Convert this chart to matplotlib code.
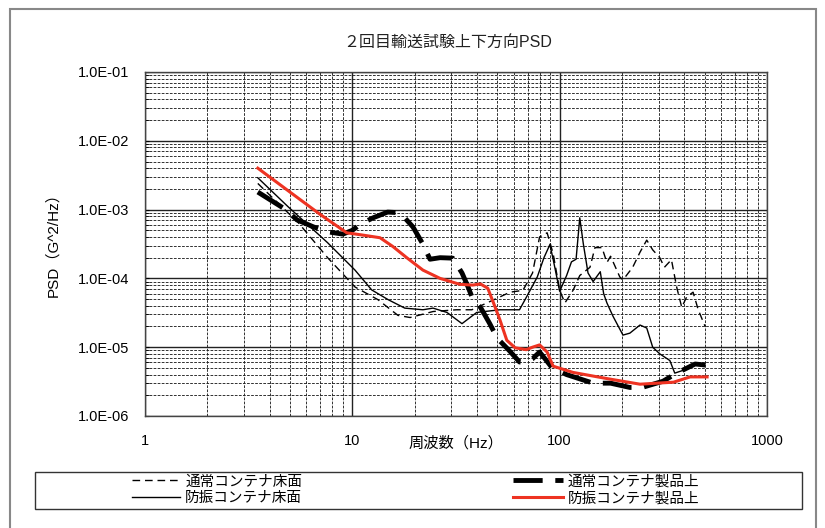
import numpy as np
import matplotlib.pyplot as plt
from matplotlib.ticker import LogLocator, FuncFormatter, NullFormatter
from matplotlib.patches import Rectangle

plt.rcParams['font.family'] = ['Liberation Sans', 'Noto Sans CJK JP']

# === 1. データ ===
# 通常コンテナ床面 (細い破線)
f_normal_floor = [3.5, 5.5, 7.6, 10.3, 13.3, 16.6, 19, 24.5, 31.8, 37.7, 44.6, 57.6, 66.5,
                  74, 80, 87, 93, 100, 106, 116, 125, 140, 148, 160, 169, 176, 195, 202,
                  225, 244, 263, 281, 304, 320, 346, 367, 388, 410, 440, 466, 503]
psd_normal_floor = [2.4e-3, 6.4e-4, 2.0e-4, 7.5e-5, 4.9e-5, 2.9e-5, 2.7e-5, 3.3e-5, 3.5e-5,
                    3.5e-5, 4.4e-5, 6.3e-5, 6.7e-5, 1.2e-4, 4.0e-4, 4.6e-4, 2.3e-4, 6.7e-5,
                    4.4e-5, 6.7e-5, 1.1e-4, 1.45e-4, 2.8e-4, 2.8e-4, 1.7e-4, 2.1e-4, 1.05e-4,
                    9.5e-5, 1.45e-4, 2.4e-4, 3.6e-4, 2.6e-4, 2.0e-4, 1.45e-4, 1.87e-4, 7.4e-5,
                    3.8e-5, 5.4e-5, 6.3e-5, 3.5e-5, 2.0e-5]

# 防振コンテナ床面 (細い実線)
f_iso_floor = [3.5, 4.9, 7.6, 10.3, 12.4, 14.9, 17.9, 21.9, 24.5, 28.6, 33.8, 39.8, 51.5, 64,
               69.5, 78, 84, 89.7, 93, 100, 108, 114, 120, 125, 130, 137, 145, 157, 163, 169,
               181, 202, 218, 244, 263, 281, 304, 340, 359, 410, 440, 500]
psd_iso_floor = [2.9e-3, 1.1e-3, 3.3e-4, 1.32e-4, 6.8e-5, 4.9e-5, 3.7e-5, 3.5e-5, 3.7e-5,
                 3.2e-5, 2.2e-5, 3.2e-5, 3.5e-5, 3.5e-5, 5.5e-5, 1.05e-4, 2.0e-4, 3.1e-4,
                 1.9e-4, 6.5e-5, 1.1e-4, 1.74e-4, 1.9e-4, 7.6e-4, 3.2e-4, 1.2e-4, 9.0e-5,
                 1.25e-4, 6.0e-5, 4.4e-5, 2.8e-5, 1.5e-5, 1.6e-5, 2.1e-5, 1.9e-5, 1.0e-5,
                 8.0e-6, 6.4e-6, 4.2e-6, 4.8e-6, 5.5e-6, 5.5e-6]

# 通常コンテナ製品上 (太い破線)
f_normal_prod = [3.5, 4.8, 5.4, 6.5, 7.8, 9.0, 10, 11, 12.6, 14.8, 17, 19.6, 21.7, 23.7, 26.5,
                 30.5, 33.8, 36.1, 38.2, 41.5, 46, 50, 57, 64, 68, 74, 80, 86, 92, 108, 145,
                 176, 218, 250, 315, 367, 450, 505]
psd_normal_prod = [1.8e-3, 9.9e-4, 7.1e-4, 5.6e-4, 4.7e-4, 4.4e-4, 5.0e-4, 6.2e-4, 7.6e-4,
                   9.2e-4, 9.0e-4, 5.6e-4, 3.3e-4, 1.9e-4, 2.0e-4, 1.97e-4, 1.2e-4, 7.6e-5,
                   4.9e-5, 3.8e-5, 2.2e-5, 1.35e-5, 9.0e-6, 6.1e-6, 6.0e-6, 6.8e-6, 8.5e-6,
                   6.5e-6, 5.0e-6, 4.0e-6, 3.0e-6, 3.0e-6, 2.6e-6, 2.6e-6, 3.2e-6, 4.2e-6,
                   5.7e-6, 5.5e-6]

# 防振コンテナ製品上 (赤線)
f_iso_prod = [3.5, 5, 7, 9.4, 11, 13.6, 15.7, 18.3, 21.9, 26.5, 33, 38, 41.5, 45, 47.7, 51.5,
              55.6, 61, 69, 74, 80, 87, 93, 116, 169, 244, 354, 426, 514]
psd_iso_prod = [4.0e-3, 1.8e-3, 8.5e-4, 4.6e-4, 4.3e-4, 3.9e-4, 2.9e-4, 2.0e-4, 1.32e-4,
                1.0e-4, 8.2e-5, 8.0e-5, 8.3e-5, 7.2e-5, 4.6e-5, 2.5e-5, 1.26e-5, 9.8e-6,
                9.2e-6, 1.0e-5, 1.08e-5, 8.5e-6, 5.3e-6, 4.3e-6, 3.5e-6, 2.9e-6, 3.1e-6,
                3.7e-6, 3.7e-6]

x_ticks = [1, 10, 100, 1000]
x_ticklabels = ['1', '10', '100', '1000']

# === 2. 描画 ===
fig = plt.figure(figsize=(8.25, 5.28), dpi=100)
ax = fig.add_axes([145/825, 1 - 416/528, 622/825, 344/528])

l1, = ax.plot(f_normal_floor, psd_normal_floor, color='black', lw=1.0,
              linestyle=(0, (5.5, 3.5)), label='通常コンテナ床面')
l2, = ax.plot(f_iso_floor, psd_iso_floor, color='black', lw=1.0, label='防振コンテナ床面')
l3, = ax.plot(f_normal_prod, psd_normal_prod, color='black', lw=3.5,
              linestyle=(0, (6, 2.6)), label='通常コンテナ製品上')
l4, = ax.plot(f_iso_prod, psd_iso_prod, color='#ee3322', lw=2.2, label='防振コンテナ製品上')

ax.set_xscale('log')
ax.set_yscale('log')
ax.set_xlim(1, 1000)
ax.set_ylim(1e-6, 1e-1)

ax.set_xticks(x_ticks)
ax.set_xticklabels(x_ticklabels)
ax.xaxis.set_minor_locator(LogLocator(base=10, subs=np.arange(2, 10), numticks=20))
ax.xaxis.set_minor_formatter(NullFormatter())
ax.yaxis.set_major_locator(LogLocator(base=10, numticks=10))
ax.yaxis.set_minor_locator(LogLocator(base=10, subs=np.arange(2, 10), numticks=20))
ax.yaxis.set_major_formatter(FuncFormatter(lambda v, p: f'{v:.1E}'))
ax.yaxis.set_minor_formatter(NullFormatter())

ax.grid(which='major', color='#222222', lw=1.0, ls='-')
ax.grid(which='minor', color='#222222', lw=0.65, ls=(0, (3, 1.5)))
ax.set_axisbelow(True)

ax.tick_params(axis='y', which='both', direction='in', labelsize=10.5, pad=11, length=3)
ax.tick_params(axis='x', which='both', length=0, labelsize=10.5, pad=13)
for sp in ax.spines.values():
    sp.set_color('#444444')
    sp.set_linewidth(1.0)

ax.set_xlabel('周波数（Hz）', fontsize=11)
ax.xaxis.set_label_coords(0.5, -0.058)
ax.set_ylabel('PSD（G^2/Hz）', fontsize=11)
ax.yaxis.set_label_coords(-0.137, 0.51)

fig.text(448/825, 1 - 42/528, '２回目輸送試験上下方向PSD', ha='center', va='center',
         fontsize=11.5, color='#222222')

# === 3. 凡例 ===
fig.add_artist(Rectangle((35/825, 1 - 509/528), 767/825, 37/528, fill=False,
                         edgecolor='#333333', lw=1.0, transform=fig.transFigure))
leg1 = fig.legend(handles=[l1, l2], loc='center left', bbox_to_anchor=(132/825, 1 - 490/528),
                  frameon=False, fontsize=10.5, handlelength=3.3, handletextpad=0.35,
                  borderpad=0, borderaxespad=0, labelspacing=0.2)
leg2 = fig.legend(handles=[l3, l4], loc='center left', bbox_to_anchor=(513/825, 1 - 490/528),
                  frameon=False, fontsize=10.5, handlelength=3.4, handletextpad=0.35,
                  borderpad=0, borderaxespad=0, labelspacing=0.2)

# 外枠
fig.add_artist(Rectangle((10/825, -0.05), 806/825, 1.05 - 9/528, fill=False,
                         edgecolor='#888888', lw=1.5, transform=fig.transFigure))

fig.savefig('out.png', dpi=100)
